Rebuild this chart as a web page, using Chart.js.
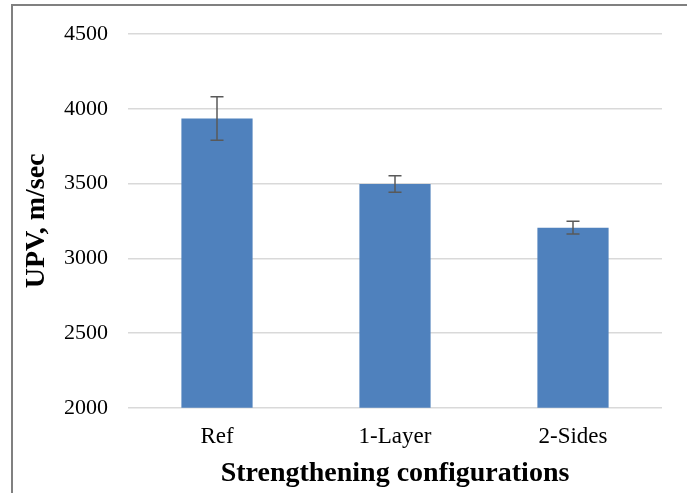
<!DOCTYPE html>
<html>
<head>
<meta charset="utf-8">
<script src="https://cdn.jsdelivr.net/npm/chart.js@4.4.1/dist/chart.umd.min.js"></script>
<style>
  body { margin: 0; background: #fff; }
  #wrap { position: relative; width: 687px; height: 493px; }
  #frame { position: absolute; left: 11px; top: 4px; right: 0; bottom: 0;
           border-top: 2px solid #808080; border-left: 2px solid #808080; }
  canvas { position: absolute; left: 0; top: 0; }
</style>
</head>
<body>
<div id="wrap">
  <div id="frame"></div>
  <canvas id="upvChart" width="687" height="493"></canvas>
</div>
<script>
// cấu hình gia cường
var configs = ["Ref", "1-Layer", "2-Sides"];
// UPV trung bình (m/sec)
var upv = [3935, 3497, 3205];
// sai số (+/-)
var upvErr = [145, 55, 42];
var yTicks = [2000, 2500, 3000, 3500, 4000, 4500];

// vẽ thanh sai số
var errorBars = {
  id: "errorBars",
  afterDatasetsDraw: function(chart) {
    var ctx = chart.ctx;
    var yScale = chart.scales.y;
    var meta = chart.getDatasetMeta(0);
    ctx.save();
    ctx.strokeStyle = "#595959";
    ctx.lineWidth = 1.5;
    meta.data.forEach(function(bar, i) {
      var x = bar.x;
      var yTop = yScale.getPixelForValue(upv[i] + upvErr[i]);
      var yBot = yScale.getPixelForValue(upv[i] - upvErr[i]);
      ctx.beginPath();
      ctx.moveTo(x, yTop); ctx.lineTo(x, yBot);
      ctx.moveTo(x - 6.5, yTop); ctx.lineTo(x + 6.5, yTop);
      ctx.moveTo(x - 6.5, yBot); ctx.lineTo(x + 6.5, yBot);
      ctx.stroke();
    });
    ctx.restore();
  }
};

new Chart(document.getElementById("upvChart"), {
  type: "bar",
  data: {
    labels: configs,
    datasets: [{
      data: upv,
      backgroundColor: "#4f81bd",
      borderWidth: 0,
      categoryPercentage: 1,
      barPercentage: 0.40
    }]
  },
  options: {
    responsive: false,
    animation: false,
    layout: { padding: { left: 20, right: 25, top: 34, bottom: 2 } },
    plugins: { legend: { display: false }, tooltip: { enabled: false } },
    scales: {
      x: {
        grid: { display: false },
        border: { display: false },
        ticks: { color: "#000", font: { family: "Liberation Serif", size: 23 }, padding: 7 },
        title: {
          display: true,
          text: "Strengthening configurations",
          color: "#000",
          font: { family: "Liberation Serif", size: 28, weight: "bold" },
          padding: { top: 0, bottom: 0 }
        }
      },
      y: {
        min: 2000,
        max: 4500,
        afterBuildTicks: function(scale) {
          scale.ticks = yTicks.map(function(v) { return { value: v }; });
        },
        afterFit: function(scale) {
          scale.width = 108;
          scale.paddingTop = 12;
          scale.paddingBottom = 12;
        },
        grid: { color: "#d9d9d9", lineWidth: 1.5, drawTicks: false },
        border: { display: false },
        ticks: {
          color: "#000",
          font: { family: "Liberation Serif", size: 22 },
          padding: 20,
          callback: function(v) { return String(v); }
        },
        title: {
          display: true,
          text: "UPV, m/sec",
          color: "#000",
          font: { family: "Liberation Serif", size: 28, weight: "bold" },
          padding: { top: 0, bottom: 0 }
        }
      }
    }
  },
  plugins: [errorBars]
});
</script>
</body>
</html>
